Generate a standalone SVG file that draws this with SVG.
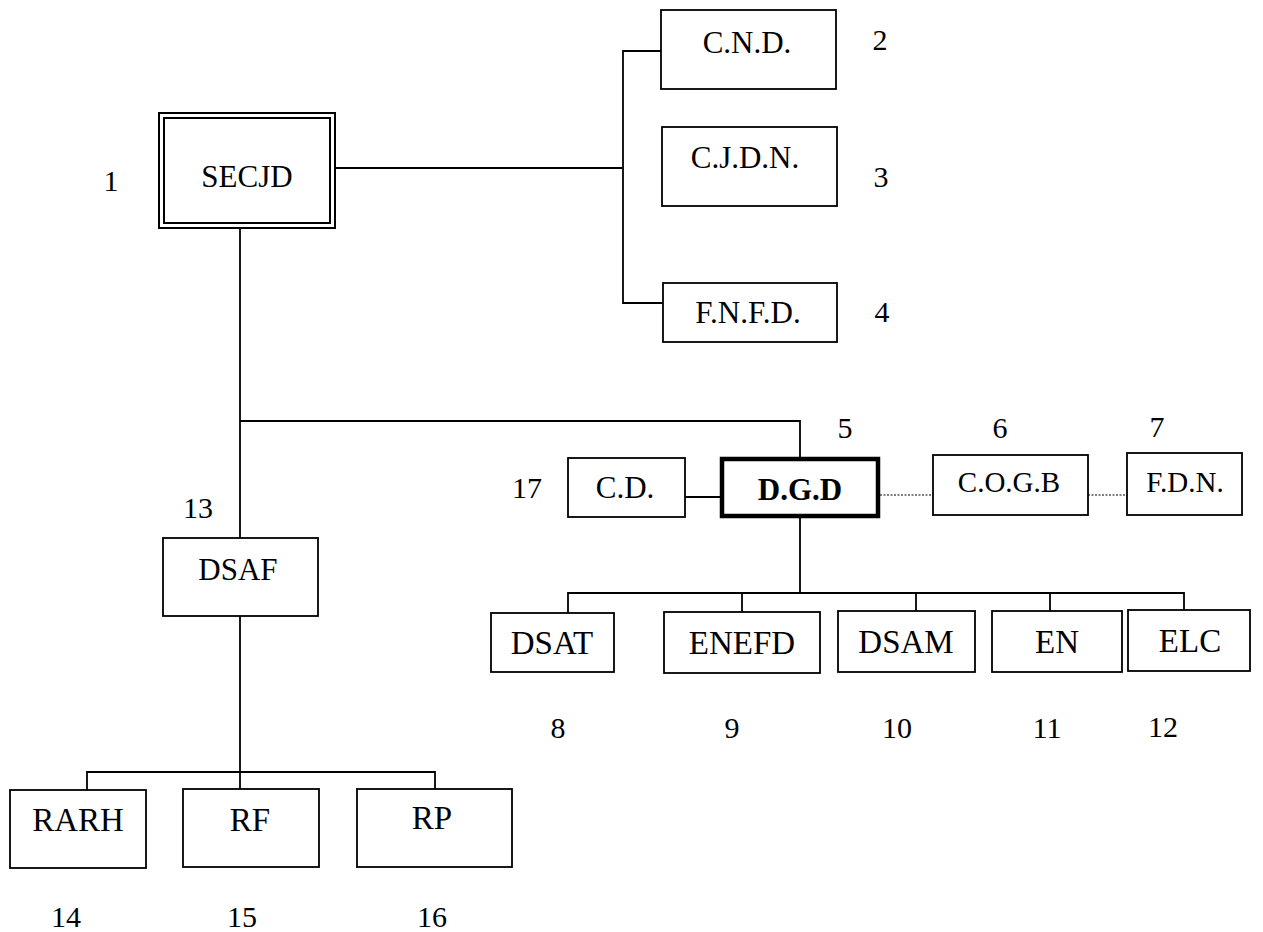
<svg xmlns="http://www.w3.org/2000/svg" width="1263" height="932" viewBox="0 0 1263 932">
<style>
.b{fill:#fff;stroke:#000;stroke-width:1.8}
.t{font-family:"Liberation Serif","Times New Roman",serif;font-size:31px;text-anchor:middle;fill:#000}
.n{font-family:"Liberation Serif","Times New Roman",serif;font-size:30px;text-anchor:middle;fill:#000}
.c{fill:none;stroke:#000;stroke-width:1.8}
.d{fill:none;stroke:#000;stroke-width:1.2;stroke-dasharray:2 1.5}
</style>
<rect width="1263" height="932" fill="#fff"/>
<g id="connectors">
<polyline class="c" points="335,168 623,168"/>
<polyline class="c" points="661,51 623,51 623,303 663,303"/>
<polyline class="c" points="240,228 240,538"/>
<polyline class="c" points="240,421 800,421 800,457"/>
<polyline class="c" points="685,497 720,497"/>
<polyline class="d" points="880,495 933,495"/>
<polyline class="d" points="1088,495 1127,495"/>
<polyline class="c" points="800,518 800,593"/>
<polyline class="c" points="568,613 568,593 1184,593 1184,611"/>
<polyline class="c" points="742,593 742,612"/>
<polyline class="c" points="916,593 916,611"/>
<polyline class="c" points="1050,593 1050,611"/>
<polyline class="c" points="240,616 240,790"/>
<polyline class="c" points="87,790 87,772 435,772 435,789"/>
</g>
<g id="n1"><rect x="159" y="113" width="176" height="115" fill="#fff" stroke="#000" stroke-width="2"/><rect x="164" y="118" width="166" height="105" fill="none" stroke="#000" stroke-width="2"/><text class="t" x="247" y="187">SECJD</text><text class="n" x="111" y="191">1</text></g>
<g id="n2"><rect class="b" x="661" y="10" width="175" height="79"/><text class="t" x="747" y="53">C.N.D.</text><text class="n" x="880" y="50">2</text></g>
<g id="n3"><rect class="b" x="662" y="127" width="175" height="79"/><text class="t" x="745" y="168">C.J.D.N.</text><text class="n" x="881" y="187">3</text></g>
<g id="n4"><rect class="b" x="663" y="283" width="174" height="59"/><text class="t" x="748" y="323">F.N.F.D.</text><text class="n" x="882" y="322">4</text></g>
<g id="n5"><rect x="722" y="459" width="156" height="57" fill="#fff" stroke="#000" stroke-width="4.5"/><text class="t" x="800" y="500" font-weight="bold">D.G.D</text><text class="n" x="845" y="438">5</text></g>
<g id="n6"><rect class="b" x="933" y="455" width="155" height="60"/><text class="t" x="1009" y="492" style="font-size:29px">C.O.G.B</text><text class="n" x="1000" y="438">6</text></g>
<g id="n7"><rect class="b" x="1127" y="453" width="115" height="62"/><text class="t" x="1185" y="492" style="font-size:29px">F.D.N.</text><text class="n" x="1157" y="437">7</text></g>
<g id="n17"><rect class="b" x="568" y="458" width="117" height="59"/><text class="t" x="625" y="498">C.D.</text><text class="n" x="527" y="498">17</text></g>
<g id="n8"><rect class="b" x="491" y="613" width="123" height="59"/><text class="t" x="552" y="654" style="font-size:33px">DSAT</text><text class="n" x="558" y="738">8</text></g>
<g id="n9"><rect class="b" x="664" y="612" width="156" height="61"/><text class="t" x="742" y="654" style="font-size:33px">ENEFD</text><text class="n" x="732" y="738">9</text></g>
<g id="n10"><rect class="b" x="838" y="611" width="137" height="61"/><text class="t" x="906" y="653" style="font-size:33px">DSAM</text><text class="n" x="897" y="738">10</text></g>
<g id="n11"><rect class="b" x="992" y="611" width="130" height="61"/><text class="t" x="1057" y="653" style="font-size:33px">EN</text><text class="n" x="1047" y="738">11</text></g>
<g id="n12"><rect class="b" x="1128" y="610" width="122" height="61"/><text class="t" x="1190" y="652" style="font-size:33px">ELC</text><text class="n" x="1163" y="737">12</text></g>
<g id="n13"><rect class="b" x="163" y="538" width="155" height="78"/><text class="t" x="238" y="580">DSAF</text><text class="n" x="198" y="518">13</text></g>
<g id="n14"><rect class="b" x="10" y="790" width="136" height="78"/><text class="t" x="78" y="831" style="font-size:33px">RARH</text><text class="n" x="66" y="927">14</text></g>
<g id="n15"><rect class="b" x="183" y="789" width="136" height="78"/><text class="t" x="250" y="831" style="font-size:33px">RF</text><text class="n" x="242" y="927">15</text></g>
<g id="n16"><rect class="b" x="357" y="789" width="155" height="78"/><text class="t" x="432" y="829" style="font-size:33px">RP</text><text class="n" x="432" y="927">16</text></g>
</svg>
